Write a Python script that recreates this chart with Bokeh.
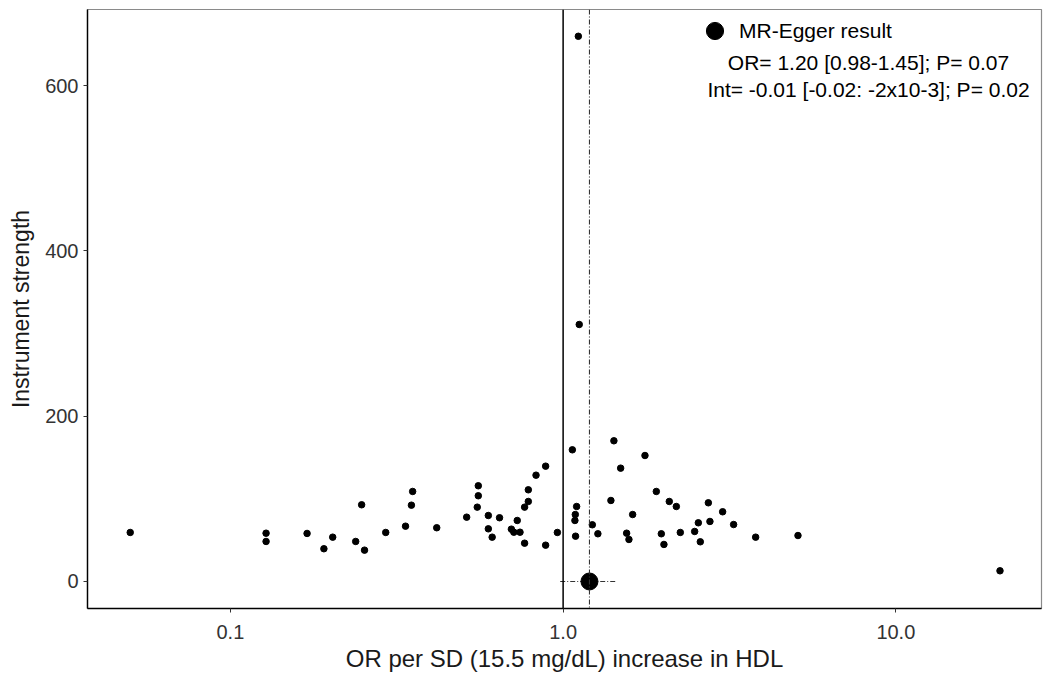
from bokeh.plotting import figure
from bokeh.models import (Range1d, FixedTicker, PrintfTickFormatter, Span, Label,
                          Legend, LegendItem)
from bokeh.embed import file_html
from bokeh.resources import INLINE

# ---- data ----
or_values = [0.050, 0.128, 0.128, 0.170, 0.203, 0.191, 0.248, 0.238, 0.253, 0.293,
             0.336, 0.353, 0.350, 0.417, 0.513, 0.556, 0.556, 0.552, 0.596, 0.596,
             0.612, 0.644, 0.728, 0.699, 0.711, 0.742, 0.766, 0.766, 0.786, 0.786,
             0.829, 0.886, 0.886, 0.961,
             1.066, 1.098, 1.088, 1.085, 1.090, 1.224, 1.272, 1.421, 1.489, 1.392,
             1.618, 1.552, 1.577, 1.762, 1.906, 2.085, 2.189, 1.973, 2.009, 2.250,
             2.485, 2.549, 2.584, 2.732, 2.762, 3.016, 3.254, 3.790, 5.080, 20.56,
             1.111, 1.118]
strength = [59.3, 58.4, 48.4, 58.1, 53.6, 39.6, 92.8, 48.4, 37.9, 59.3,
            66.9, 108.9, 92.3, 65.0, 77.8, 115.8, 103.7, 89.9, 79.8, 63.7,
            53.6, 77.1, 73.8, 63.3, 59.6, 59.6, 46.3, 89.9, 96.8, 110.9,
            128.6, 139.5, 43.9, 59.3,
            159.3, 90.7, 81.0, 73.8, 54.8, 68.6, 57.7, 170.2, 137.1, 98.0,
            81.0, 58.4, 50.8, 152.4, 108.9, 96.8, 90.7, 57.7, 44.8, 59.3,
            60.5, 71.0, 48.0, 95.2, 72.6, 84.3, 68.9, 53.6, 55.6, 12.9,
            659.6, 310.9]

egger_or = [1.20]
egger_lo = [0.98]
egger_hi = [1.45]
egger_strength = [0]
null_or = 1.0

x_ticks = [0.1, 1.0, 10.0]
y_ticks = [0, 200, 400, 600]

x_title = "OR per SD (15.5 mg/dL) increase in HDL"
y_title = "Instrument strength"
legend_label = "MR-Egger result"
line_or = "OR= 1.20 [0.98-1.45]; P= 0.07"
line_int = "Int= -0.01 [-0.02: -2x10-3]; P= 0.02"

FONT = "Liberation Sans"

p = figure(width=1043, height=677, x_axis_type="log",
           x_range=Range1d(0.0372, 27.4), y_range=Range1d(-32.7, 692),
           output_backend="svg", toolbar_location=None,
           min_border_left=87, min_border_right=2, min_border_top=9, min_border_bottom=69,
           background_fill_color="white", border_fill_color="white")

p.xgrid.visible = False
p.ygrid.visible = False
p.outline_line_color = "#8a8a8a"
p.outline_line_width = 1.2

for ax in (p.xaxis[0], p.yaxis[0]):
    ax.axis_line_color = "black"
    ax.axis_line_width = 1.4
    ax.major_tick_line_color = "#333333"
    ax.major_tick_out = 4
    ax.major_tick_in = 0
    ax.minor_tick_line_color = None
    ax.major_label_text_font = FONT
    ax.major_label_text_font_size = "20px"
    ax.major_label_text_color = "#333333"
    ax.axis_label_text_font = FONT
    ax.axis_label_text_font_style = "normal"
    ax.axis_label_text_color = "#1a1a1a"

p.xaxis[0].ticker = FixedTicker(ticks=x_ticks)
p.xaxis[0].formatter = PrintfTickFormatter(format="%.1f")
p.xaxis[0].axis_label = x_title
p.xaxis[0].axis_label_text_font_size = "24px"
p.xaxis[0].major_label_standoff = 12
p.xaxis[0].axis_label_standoff = 3

p.yaxis[0].ticker = FixedTicker(ticks=y_ticks)
p.yaxis[0].axis_label = y_title
p.yaxis[0].axis_label_text_font_size = "23px"
p.yaxis[0].major_label_standoff = 5
p.yaxis[0].axis_label_standoff = 8

# reference lines
p.add_layout(Span(location=null_or, dimension="height", line_color="black", line_width=1.5))
p.add_layout(Span(location=egger_or[0], dimension="height", line_color="#333333",
                  line_width=1.1, line_dash="5 2 1 2"))

# SNP points
p.scatter(x=or_values, y=strength, size=6.5, color="black")

# MR-Egger estimate with CI
p.segment(x0=egger_lo, x1=egger_hi, y0=egger_strength, y1=egger_strength,
          line_color="#333333", line_width=1.1, line_dash="5 2 1 2")
egger_r = p.scatter(x=egger_or, y=egger_strength, size=17, color="black")

legend = Legend(items=[LegendItem(label=legend_label, renderers=[egger_r])],
                location=(606, 556), glyph_width=43, glyph_height=43,
                padding=0, margin=0, spacing=0, label_standoff=3,
                label_text_font=FONT, label_text_font_size="21px",
                label_text_color="black",
                border_line_alpha=0, background_fill_alpha=0)
p.add_layout(legend, "center")

for txt, yy in ((line_or, 546), (line_int, 519)):
    p.add_layout(Label(x=781, y=yy, x_units="screen", y_units="screen", text=txt,
                       text_align="center", text_baseline="alphabetic",
                       text_font=FONT, text_font_size="21px", text_color="black"))

open("out.html", "w").write(file_html(p, INLINE))
